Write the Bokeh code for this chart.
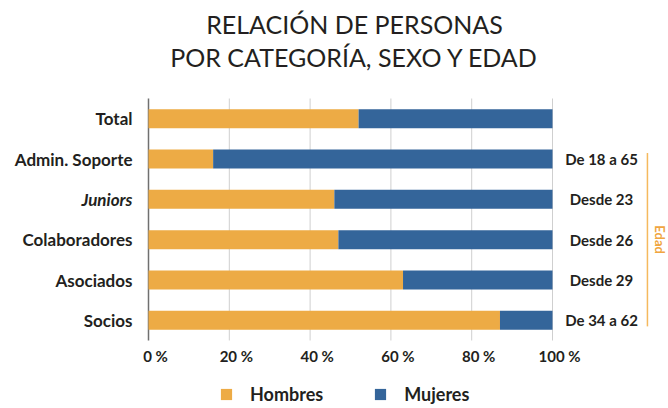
import math
from bokeh.plotting import figure
from bokeh.models import Range1d, Label, Legend, LegendItem, ColumnDataSource, Arrow
from bokeh.embed import file_html
from bokeh.resources import INLINE

# ---- data ----
categories = ["Total", "Admin. Soporte", "Juniors", "Colaboradores", "Asociados", "Socios"]
hombres = [52, 16, 46, 47, 63, 87]
mujeres = [48, 84, 54, 53, 37, 13]
edades = ["", "De 18 a 65", "Desde 23", "Desde 26", "Desde 29", "De 34 a 62"]
x_ticks = [0, 20, 40, 60, 80, 100]
x_tick_labels = ["0 %", "20 %", "40 %", "60 %", "80 %", "100 %"]
title_lines = ["RELACIÓN DE PERSONAS", "POR CATEGORÍA, SEXO Y EDAD"]
series_names = ["Hombres", "Mujeres"]

ORANGE = "#EDAB45"
BLUE = "#34659A"
TEXT = "#231F20"
FONT = "Lato"

W, H = 668, 408
n = len(categories)
ypos = [n - 1 - i for i in range(n)]
label_styles = ["bold italic" if c == "Juniors" else "bold" for c in categories]

# layout: plot area (0..100 / rows) placed at px 148..552 horizontally, 98..340 vertically
left_px, right_px, top_px, bot_px = 148, 552, 98, 340
xs = (right_px - left_px) / 100.0
ys = (bot_px - top_px) / n
x_range = Range1d(-left_px / xs, 100 + (W - right_px) / xs)
y_range = Range1d(-0.5 - (H - bot_px) / ys, n - 0.5 + top_px / ys)

p = figure(width=W, height=H, x_range=x_range, y_range=y_range,
           output_backend="svg", toolbar_location=None, min_border=0)
p.xaxis.visible = False
p.yaxis.visible = False
p.xgrid.visible = False
p.ygrid.visible = False
p.outline_line_color = None
p.background_fill_color = "white"

# grid lines and zero line
p.segment(x0=x_ticks[1:], y0=-0.5, x1=x_ticks[1:], y1=n - 0.5, line_color="#cfcfcf", line_width=1)
p.segment(x0=[x_ticks[0]], y0=-0.5, x1=[x_ticks[0]], y1=n - 0.5, line_color="#707070", line_width=1.5)

src = ColumnDataSource(dict(y=ypos, hombres=hombres, mujeres=mujeres))
rs = p.hbar_stack(["hombres", "mujeres"], y="y", height=0.47, color=[ORANGE, BLUE],
                  line_color=None, source=src)

# category labels
for c, y, st in zip(categories, ypos, label_styles):
    p.add_layout(Label(x=0, y=y, x_offset=-16, text=c, text_align="right", text_baseline="middle",
                       text_font=FONT, text_font_size="17px", text_font_style=st, text_color=TEXT))

# age labels
for e, y in zip(edades, ypos):
    if e:
        p.add_layout(Label(x=100, y=y, x_offset=49, text=e, text_align="center", text_baseline="middle",
                           text_font=FONT, text_font_size="15px", text_font_style="bold", text_color=TEXT))

# bracket
p.add_layout(Arrow(x_start=123.5, y_start=ypos[1] + 0.15, x_end=123.5, y_end=ypos[-1] - 0.15,
                   start=None, end=None, line_color="#F5B95E", line_width=1.5))
p.add_layout(Label(x=100, y=(ypos[1] + ypos[-1]) / 2, x_offset=107, text="Edad", angle=-math.pi / 2,
                   text_align="center", text_baseline="middle", text_font=FONT, text_font_size="13px",
                   text_font_style="bold", text_color="#F0A540"))

# tick labels
for t, tl in zip(x_ticks, x_tick_labels):
    p.add_layout(Label(x=t, y=-0.5, x_offset=7, y_offset=-15, text=tl, text_align="center",
                       text_baseline="alphabetic", text_font=FONT, text_font_size="15px",
                       text_font_style="bold", text_color=TEXT))

# title
for line, yo in zip(title_lines, [75, 42]):
    p.add_layout(Label(x=50, y=n - 0.5, x_offset=4, y_offset=yo, text=line, text_align="center",
                       text_baseline="alphabetic", text_font=FONT, text_font_size="25px",
                       text_color=TEXT))

legend = Legend(items=[LegendItem(label=series_names[0], renderers=[rs[0]]),
                       LegendItem(label=series_names[1], renderers=[rs[1]])],
                orientation="horizontal", location=(219, 3), glyph_width=14, glyph_height=14,
                label_standoff=17, spacing=50, padding=0, margin=0, border_line_color=None,
                background_fill_alpha=0, label_text_font=FONT, label_text_font_size="18px",
                label_text_font_style="bold", label_text_color=TEXT)
p.add_layout(legend, "center")

open("out.html", "w").write(file_html(p, INLINE))
